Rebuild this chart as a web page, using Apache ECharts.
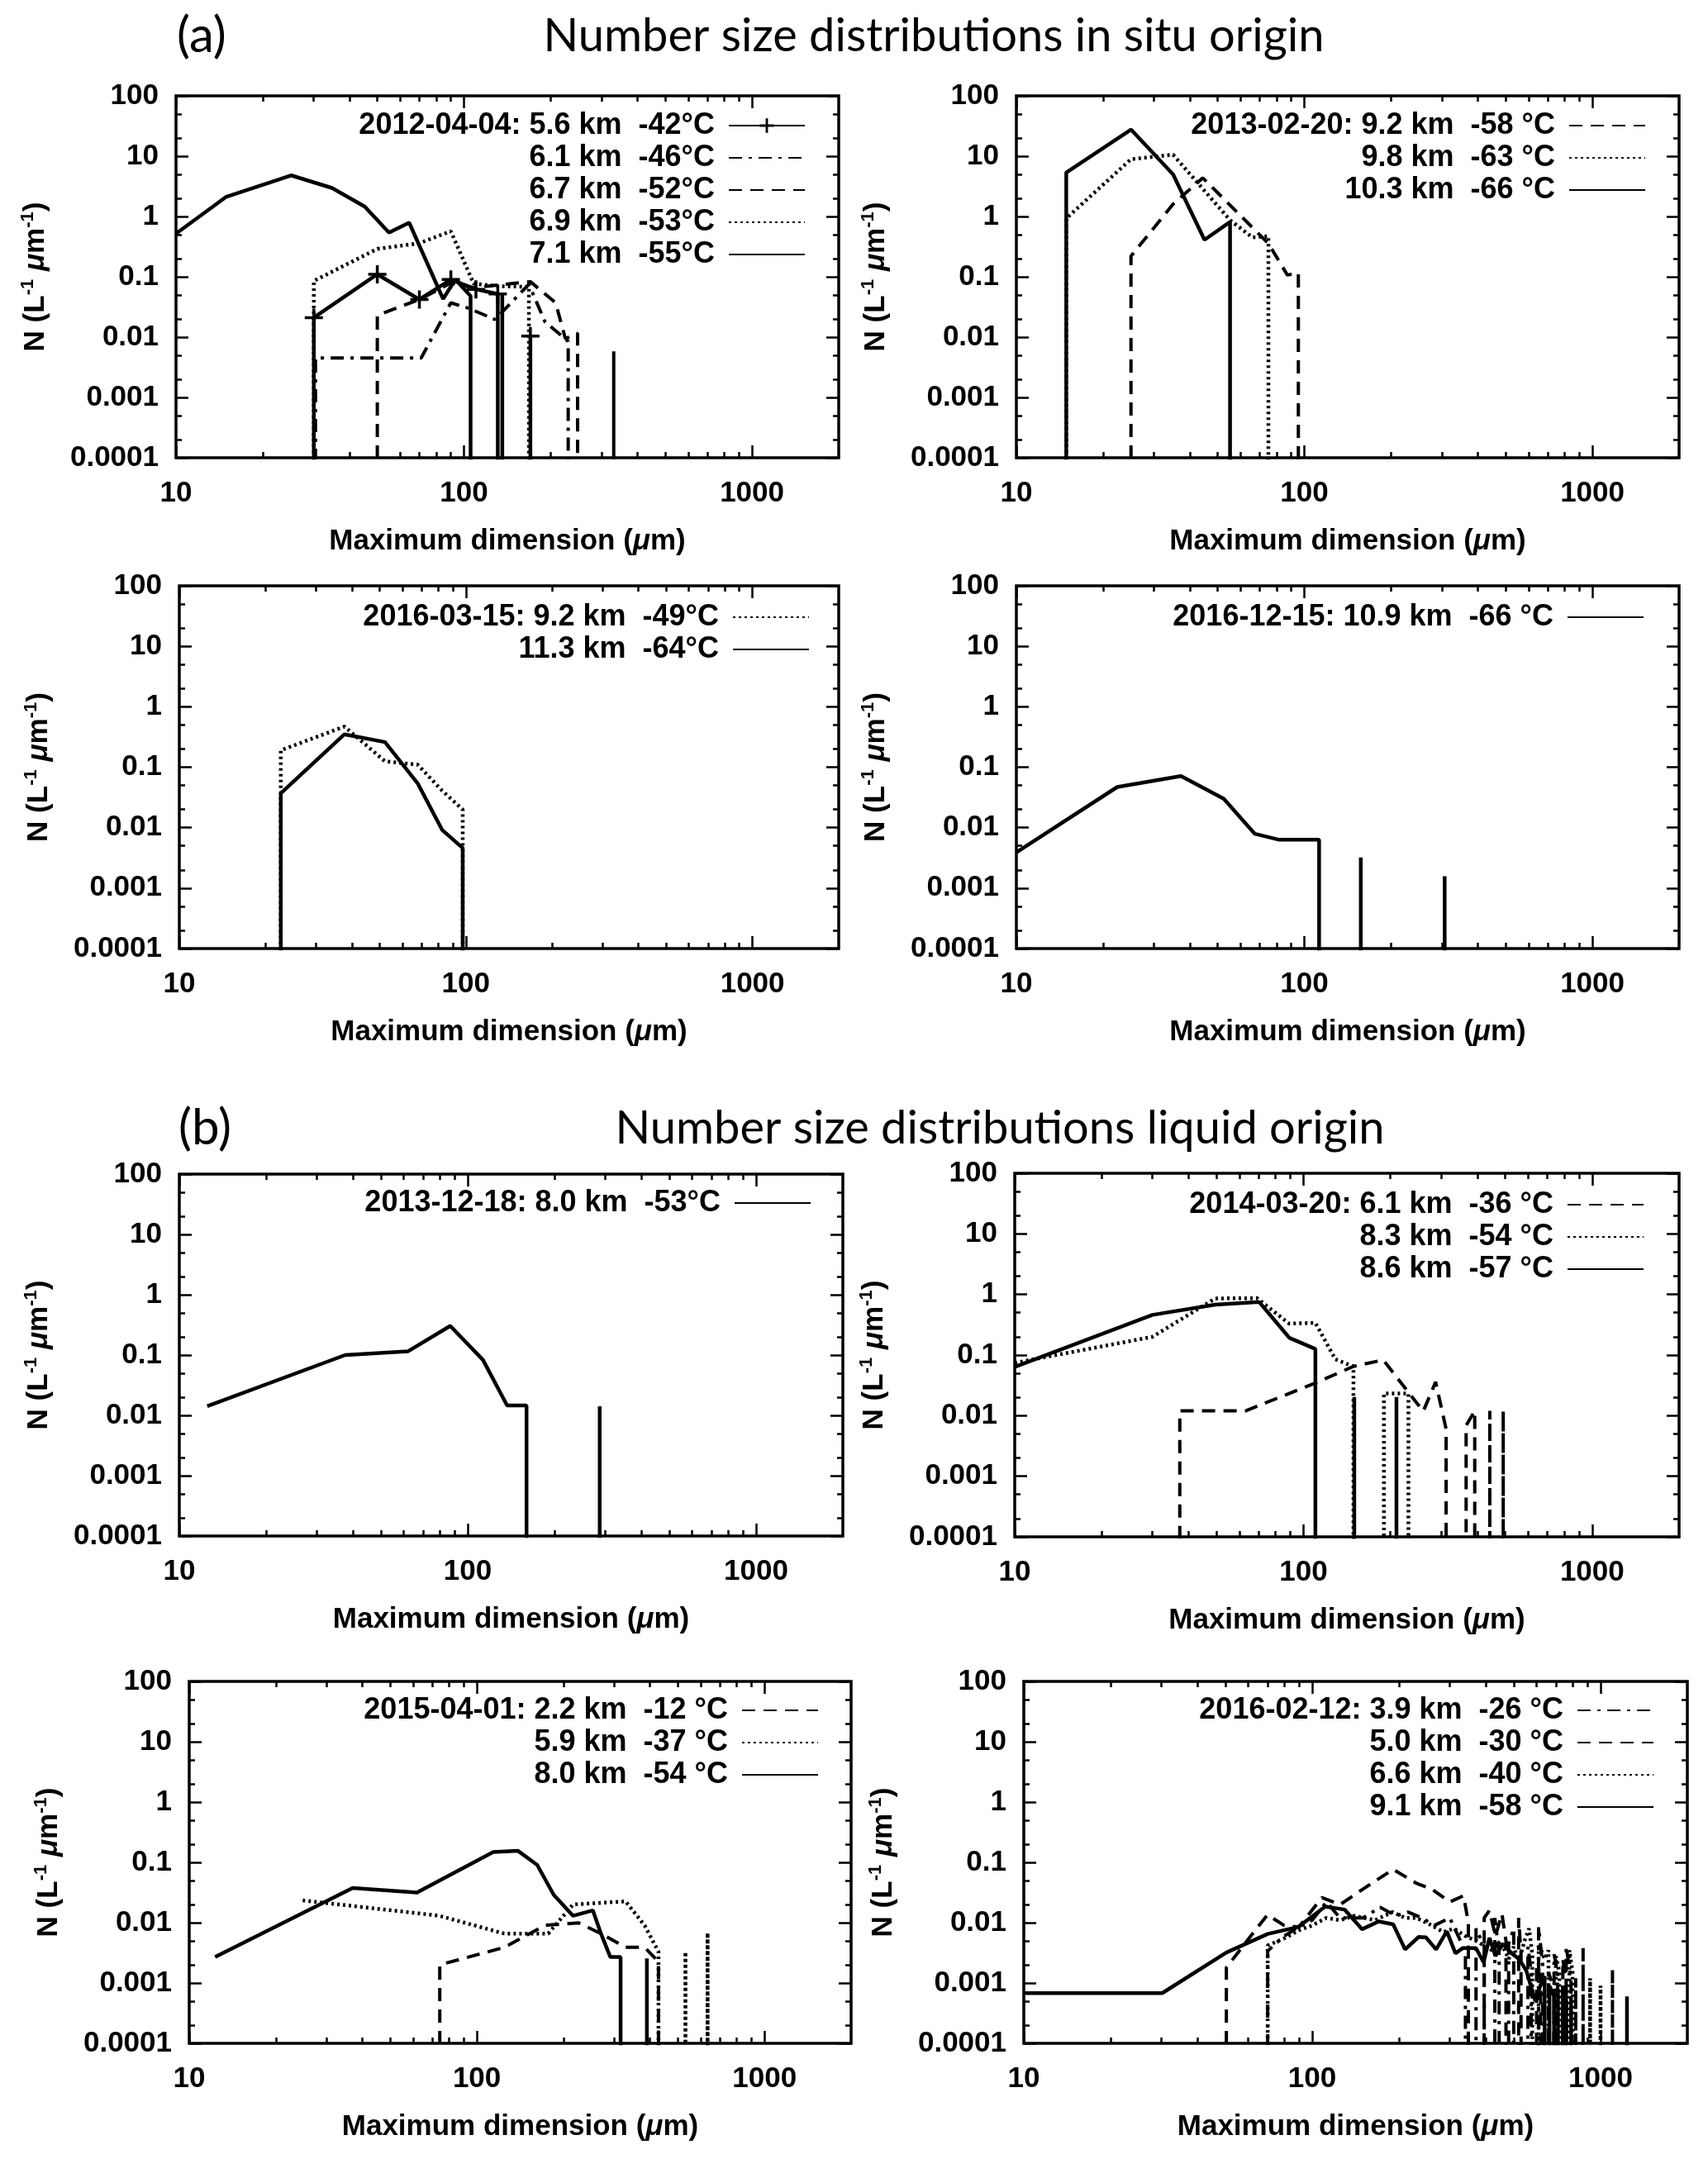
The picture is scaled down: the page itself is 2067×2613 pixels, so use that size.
<!DOCTYPE html>
<html><head><meta charset="utf-8">
<script src="https://cdn.jsdelivr.net/npm/echarts@6/dist/echarts.min.js"></script>
<style>html,body{margin:0;padding:0;background:#fff}#c{width:2067px;height:2613px}</style>
</head><body><div id="c"></div>
<script>
// ---- tick values / labels ----
const Z = 1e-9; // zero count (below plotted range)
const X_MAJOR = [10, 100, 1000];
const X_LABELS = ['10', '100', '1000'];
const X_MINOR = [20, 30, 40, 50, 60, 70, 80, 90, 200, 300, 400, 500, 600, 700, 800, 900];
const Y_MAJOR = [0.0001, 0.001, 0.01, 0.1, 1, 10, 100];
const Y_LABELS = ['0.0001', '0.001', '0.01', '0.1', '1', '10', '100'];
const Y_MINOR = [0.0002, 0.0005, 0.002, 0.005, 0.02, 0.05, 0.2, 0.5, 2, 5, 20, 50];

// ---- data: [maximum dimension (um), N] ----
// (a) 2012-04-04
const p1_s56 = [[30.1,Z],[30.1,0.021],[50,0.11],[70,0.042],[90,0.09],[110,0.062],[131,0.052],[131,Z],[170,Z],[170,0.0104],[170,Z]];
const p1_s61 = [[30.5,Z],[30.5,0.0045],[71,0.0045],[90,0.037],[104,0.03],[128,0.0196],[168,0.075],[191,0.018],[230,0.0085],[230,Z]];
const p1_s67 = [[50,Z],[50,0.023],[70,0.042],[90,0.079],[108,0.066],[134,0.074],[170,0.083],[208,0.037],[225,0.0094],[248,0.0116],[248,Z],[331,Z],[331,0.0058],[331,Z]];
const p1_s69 = [[30.1,Z],[30.1,0.0855],[50,0.29],[70,0.36],[90,0.57],[108,0.077],[130,0.07],[168,0.068],[168,Z]];
const p1_s71 = [[10,0.52],[14.9,2.1],[25.1,4.8],[34.8,2.97],[45.2,1.46],[54.9,0.54],[64.5,0.79],[84.6,0.043],[93.3,0.09],[105.4,0.048],[105.4,Z],[135.8,Z],[135.8,0.05],[135.8,Z]];
// 2013-02-20
const p2_s92 = [[25,Z],[25,0.22],[35,1.6],[44.4,4.36],[75,0.356],[87.3,0.107],[95.3,0.116],[95.3,Z]];
const p2_s98 = [[14.9,Z],[14.9,0.93],[25,8.9],[35,10.6],[55.2,0.87],[66,0.45],[75,0.47],[75,Z]];
const p2_s103 = [[14.9,Z],[14.9,5.35],[25,27.6],[35,5.0],[45,0.41],[55.2,0.81],[55.2,Z]];
// 2016-03-15
const p3_s92 = [[22.6,Z],[22.6,0.19],[37.7,0.47],[52.2,0.125],[67.9,0.11],[82.6,0.041],[97.5,0.0198],[97.5,Z]];
const p3_s113 = [[22.6,Z],[22.6,0.037],[37.7,0.35],[52.2,0.26],[67.9,0.054],[82.6,0.0092],[97.5,0.0046],[97.5,Z]];
// 2016-12-15
const p4_s109 = [[10,0.0039],[22.4,0.047],[37.3,0.0714],[52.5,0.030],[67.3,0.0079],[81.8,0.0063],[112.5,0.0063],[112.5,Z],[157,Z],[157,0.0032],[157,Z],[307,Z],[307,0.00157],[307,Z]];
// (b) 2013-12-18
const p5_s80 = [[12.5,0.0142],[37.6,0.1],[62,0.115],[87,0.304],[113,0.083],[137,0.0146],[160,0.0146],[160,Z],[287,Z],[287,0.0142],[287,Z]];
// 2014-03-20
const p6_s61 = [[37.3,Z],[37.3,0.012],[63,0.012],[110,0.0345],[149,0.065],[189,0.083],[260,0.0118],[287,0.036],[312,0.006],[312,Z],[366,Z],[366,0.0069],[392,0.012],[392,Z],[442,Z],[442,0.012],[442,Z],[492,Z],[492,0.012],[492,Z]];
const p6_s83 = [[10,0.0743],[30,0.2],[49.5,0.86],[69,0.87],[89.3,0.33],[110,0.34],[129,0.085],[149,0.065],[149,Z],[190,Z],[190,0.0232],[231,0.0232],[231,Z]];
const p6_s86 = [[10,0.0635],[30,0.46],[49.5,0.68],[70.3,0.75],[89.3,0.193],[110,0.126],[110,Z],[150,Z],[150,0.0204],[150,Z],[210,Z],[210,0.0204],[210,Z]];
// 2015-04-01
const p7_s22 = [[74.3,Z],[74.3,0.002],[124.5,0.0039],[173,0.0091],[226,0.0099],[270,0.0066],[329,0.0039],[383,0.0039],[419,0.0025],[428,0.0022],[428,Z]];
const p7_s59 = [[24.8,0.0234],[73.7,0.0131],[124.5,0.0066],[177,0.0066],[216,0.02],[329,0.0226],[383,0.009],[428,0.0033],[428,Z],[531,Z],[531,0.0033],[531,Z],[634,Z],[634,0.0068],[634,Z]];
const p7_s80 = [[12.3,0.0027],[37,0.0376],[61.9,0.0317],[114,0.148],[139,0.155],[162,0.091],[185,0.029],[216,0.013],[253,0.016],[270,0.0066],[291,0.0027],[316,0.0027],[316,Z],[390,Z],[390,0.00256],[390,Z]];
// 2016-02-12
const p8_s39 = [[70.1,Z],[70.1,0.0034],[80,0.006],[90,0.0085],[100,0.011],[112,0.022],[125,0.012],[150,0.012],[172,0.018],[195,0.013],[215,0.015],[240,0.012],[265,0.009],[300,0.012],[330,0.0045],[340,0.003],[340,Z],[370,Z],[370,0.008],[395,0.004],[395,Z],[430,Z],[430,0.012],[445,0.003],[445,Z],[480,Z],[480,0.0045],[500,0.008],[500,Z],[560,Z],[560,0.004],[575,0.0015],[575,Z],[610,Z],[610,0.0085],[630,0.002],[630,Z],[690,Z],[690,0.003],[710,0.0015],[710,Z],[760,Z],[760,0.004],[790,0.0012],[790,Z],[870,Z],[870,0.0038],[870,Z],[1100,Z],[1100,0.0017],[1100,Z]];
const p8_s50 = [[50.4,Z],[50.4,0.0018],[62,0.0065],[70,0.0135],[80,0.009],[90,0.0085],[108,0.026],[125,0.02],[155,0.04],[191,0.0765],[230,0.045],[260,0.036],[300,0.022],[335,0.028],[348,0.01],[348,Z],[395,Z],[395,0.012],[412,0.016],[432,0.006],[455,0.014],[470,0.005],[470,Z],[520,Z],[520,0.012],[530,0.003],[530,Z],[600,Z],[600,0.002],[620,0.0012],[620,Z],[660,Z],[660,0.0015],[690,0.0008],[690,Z],[740,Z],[740,0.0025],[760,0.001],[760,Z],[820,Z],[820,0.0012],[820,Z]];
const p8_s66 = [[70.1,Z],[70.1,0.0042],[80,0.0055],[90,0.0075],[100,0.009],[112,0.012],[125,0.011],[140,0.013],[165,0.011],[190,0.015],[210,0.012],[230,0.012],[260,0.009],[285,0.007],[310,0.008],[340,0.006],[370,0.005],[400,0.004],[420,0.0035],[450,0.005],[480,0.0025],[500,0.004],[520,0.0022],[545,0.005],[565,0.008],[580,0.003],[580,Z],[610,Z],[610,0.0045],[640,0.0025],[660,0.0035],[660,Z],[700,Z],[700,0.0028],[720,0.0015],[720,Z],[780,Z],[780,0.0035],[800,0.0015],[800,Z],[920,Z],[920,0.0012],[920,Z],[1000,Z],[1000,0.0009],[1000,Z]];
const p8_s91 = [[10,0.00068],[30.2,0.00068],[50.4,0.0032],[70.1,0.0065],[89.5,0.0085],[111,0.0185],[129.5,0.0165],[149,0.0078],[170,0.0105],[191,0.0094],[210,0.0036],[234,0.0058],[248,0.0057],[269,0.0036],[293,0.0072],[314,0.0031],[333,0.0038],[370,0.0038],[393,0.0022],[412,0.0056],[432,0.0028],[458,0.0044],[492,0.0031],[522,0.0025],[553,0.0016],[594,0.0005],[623,0.001],[640,0.0013],[640,Z],[665,Z],[665,0.0009],[690,0.0006],[690,Z],[712,Z],[712,0.0008],[712,Z],[740,Z],[740,0.0009],[760,0.0005],[760,Z],[790,Z],[790,0.0006],[790,Z],[1235,Z],[1235,0.0006],[1235,Z]];

// ---- layout / styles ----
const FONT = '"Liberation Sans", Arial, sans-serif';
const PLUS = 'path://M-10,-1.6H10V1.6H-10Z M-1.6,-10H1.6V10H-1.6Z';
const STYLES = {
  solid: {type: 'solid', width: 4.5},
  plus: {type: 'solid', width: 4.5},
  dash: {type: [16, 10], width: 4},
  dot: {type: [3, 4], width: 4.5},
  dashdot: {type: [16, 8, 4, 8], width: 4}
};
const PANELS = [
  {rect: [213, 116, 802, 438], lgRight: 1092, lgTop: 152, series: [
    ['2012-04-04: 5.6 km  -42°C', 'plus', p1_s56], ['6.1 km  -46°C', 'dashdot', p1_s61],
    ['6.7 km  -52°C', 'dash', p1_s67], ['6.9 km  -53°C', 'dot', p1_s69], ['7.1 km  -55°C', 'solid', p1_s71]]},
  {rect: [1230, 116, 802, 438], lgRight: 75, lgTop: 152, series: [
    ['2013-02-20: 9.2 km  -58 °C', 'dash', p2_s92], ['9.8 km  -63 °C', 'dot', p2_s98], ['10.3 km  -66 °C', 'solid', p2_s103]]},
  {rect: [217, 709, 798, 439], lgRight: 1087, lgTop: 747, series: [
    ['2016-03-15: 9.2 km  -49°C', 'dot', p3_s92], ['11.3 km  -64°C', 'solid', p3_s113]]},
  {rect: [1230, 709, 802, 439], lgRight: 77, lgTop: 747, series: [
    ['2016-12-15: 10.9 km  -66 °C', 'solid', p4_s109]]},
  {rect: [217, 1421, 803, 438], lgRight: 1085, lgTop: 1456, series: [
    ['2013-12-18: 8.0 km  -53°C', 'solid', p5_s80]]},
  {rect: [1228, 1420, 804, 440], lgRight: 77, lgTop: 1458, series: [
    ['2014-03-20: 6.1 km  -36 °C', 'dash', p6_s61], ['8.3 km  -54 °C', 'dot', p6_s83], ['8.6 km  -57 °C', 'solid', p6_s86]]},
  {rect: [229, 2035, 801, 438], lgRight: 1076, lgTop: 2070, series: [
    ['2015-04-01: 2.2 km  -12 °C', 'dash', p7_s22], ['5.9 km  -37 °C', 'dot', p7_s59], ['8.0 km  -54 °C', 'solid', p7_s80]]},
  {rect: [1239, 2035, 803, 438], lgRight: 65, lgTop: 2070, series: [
    ['2016-02-12: 3.9 km  -26 °C', 'dashdot', p8_s39], ['5.0 km  -30 °C', 'dash', p8_s50],
    ['6.6 km  -40 °C', 'dot', p8_s66], ['9.1 km  -58 °C', 'solid', p8_s91]]}
];
const ROW = 39;
const textBase = {fontFamily: FONT, fontWeight: 'bold', fontSize: 35, color: '#000'};
const legendText = {fontFamily: FONT, fontWeight: 'bold', fontSize: 36, color: '#000'};
const TITLE_FONT = '56px Lato';

const option = {
  animation: false, backgroundColor: '#fff',
  grid: [], xAxis: [], yAxis: [], series: [], legend: [],
  graphic: [
    {type: 'text', x: 214, y: 44, style: {text: '(a)', font: '60px Lato', fill: '#000', align: 'left', verticalAlign: 'middle'}},
    {type: 'text', x: 1130, y: 44, style: {text: 'Number size distributions in situ origin', font: TITLE_FONT, fill: '#000', align: 'center', verticalAlign: 'middle'}},
    {type: 'text', x: 216, y: 1366, style: {text: '(b)', font: '60px Lato', fill: '#000', align: 'left', verticalAlign: 'middle'}},
    {type: 'text', x: 1210, y: 1366, style: {text: 'Number size distributions liquid origin', font: TITLE_FONT, fill: '#000', align: 'center', verticalAlign: 'middle'}}
  ]
};

const tickStyle = {color: '#000', width: 2.5};
PANELS.forEach((P, p) => {
  option.grid.push({left: P.rect[0], top: P.rect[1], width: P.rect[2], height: P.rect[3],
    show: true, borderColor: '#000', borderWidth: 3.5, backgroundColor: 'transparent',
    containLabel: false, outerBoundsMode: 'none'});
  const xb = {type: 'log', logBase: 10, min: 10, max: 2000, gridIndex: p, axisLine: {show: false},
    splitLine: {show: false}, axisLabel: {show: false}};
  const yb = {type: 'log', logBase: 10, min: 0.0001, max: 100, gridIndex: p, axisLine: {show: false},
    splitLine: {show: false}, axisLabel: {show: false}};
  const tk = (vals, len) => ({show: true, inside: true, length: len, customValues: vals, lineStyle: tickStyle});
  option.xAxis.push(
    Object.assign({}, xb, {position: 'bottom', axisTick: tk(X_MAJOR, 15),
      axisLabel: Object.assign({show: true, customValues: X_MAJOR, margin: 26,
        formatter: v => X_LABELS[Math.round(Math.log10(v)) - 1]}, textBase),
      name: 'Maximum dimension ({mu|μ}m)', nameLocation: 'middle', nameGap: 84, nameMoveOverlap: false,
      nameTextStyle: Object.assign({rich: {mu: Object.assign({fontStyle: 'italic'}, textBase)}}, textBase)}),
    Object.assign({}, xb, {position: 'bottom', axisTick: tk(X_MINOR, 7)}),
    Object.assign({}, xb, {position: 'top', axisTick: tk(X_MAJOR, 15)}),
    Object.assign({}, xb, {position: 'top', axisTick: tk(X_MINOR, 7)})
  );
  option.yAxis.push(
    Object.assign({}, yb, {position: 'left', axisTick: tk(Y_MAJOR, 15),
      axisLabel: Object.assign({show: true, customValues: Y_MAJOR, margin: 21,
        formatter: v => Y_LABELS[Math.round(Math.log10(v)) + 4]}, textBase),
      name: 'N (L{sup|-1} {mu|μ}m{sup|-1})', nameLocation: 'middle', nameGap: 150, nameRotate: 90, nameMoveOverlap: false,
      nameTextStyle: Object.assign({lineHeight: 40, rich: {
        sup: {fontFamily: FONT, fontWeight: 'bold', fontSize: 22, color: '#000', verticalAlign: 'top', lineHeight: 24},
        mu: Object.assign({fontStyle: 'italic', lineHeight: 40}, textBase)}}, textBase)}),
    Object.assign({}, yb, {position: 'left', axisTick: tk(Y_MINOR, 7)}),
    Object.assign({}, yb, {position: 'right', axisTick: tk(Y_MAJOR, 15)}),
    Object.assign({}, yb, {position: 'right', axisTick: tk(Y_MINOR, 7)})
  );
  P.series.forEach(([name, sty, data], i) => {
    const isPlus = sty === 'plus';
    option.series.push({
      type: 'line', name, xAxisIndex: 4 * p, yAxisIndex: 4 * p, clip: true, silent: true, z: 3,
      symbol: isPlus ? PLUS : 'none', symbolSize: 22, showSymbol: isPlus,
      lineStyle: Object.assign({color: '#000'}, STYLES[sty]), itemStyle: {color: '#000'},
      data: data.map(d => isPlus && d[1] < 0.0001 ? {value: d, symbol: 'none'} : d)
    });
    option.legend.push({
      data: [name], orient: 'vertical', align: 'right', right: P.lgRight, top: P.lgTop + i * ROW - 20,
      itemWidth: 92, itemHeight: 22, itemGap: 0, padding: 0, selectedMode: false,
      itemStyle: isPlus ? {color: '#000'} : {opacity: 0, color: 'transparent', borderWidth: 0},
      textStyle: Object.assign({lineHeight: 40, padding: [0, 12, 0, 0]}, legendText)
    });
  });
});

const chart = echarts.init(document.getElementById('c'), null, {renderer: 'canvas'});
chart.setOption(option);
</script>
</body></html>
